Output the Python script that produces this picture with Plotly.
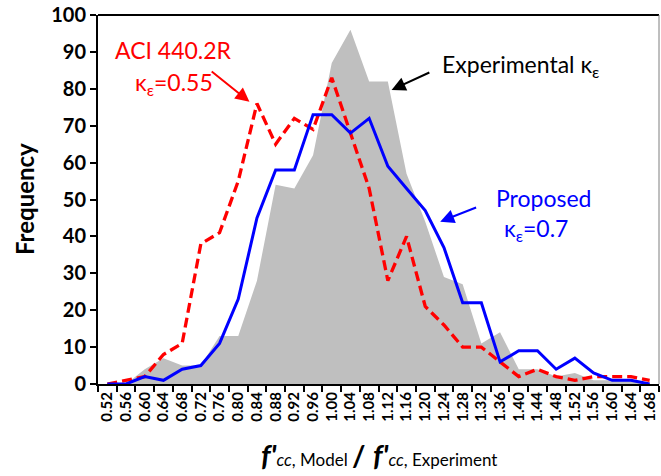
import plotly.graph_objects as go

# Histogram bins of the strength ratio f'cc,Model / f'cc,Experiment
bins = ["0.52", "0.56", "0.60", "0.64", "0.68", "0.72", "0.76", "0.80", "0.84", "0.88",
        "0.92", "0.96", "1.00", "1.04", "1.08", "1.12", "1.16", "1.20", "1.24", "1.28",
        "1.32", "1.36", "1.40", "1.44", "1.48", "1.52", "1.56", "1.60", "1.64", "1.68"]

# Frequency counts per bin
experimental = [0, 0, 4, 7, 5, 5, 13, 13, 28, 54, 53, 62, 87, 96, 82, 82, 57, 44, 29, 27,
                11, 14, 4, 4, 2, 3, 1, 1, 1, 0]
aci_440 = [0, 1, 2, 8, 11, 38, 41, 55, 76, 65, 72, 69, 83, 68, 53, 28, 40, 21, 16, 10,
           10, 6, 2, 4, 2, 1, 2, 2, 2, 1]
proposed = [0, 0, 2, 1, 4, 5, 11, 23, 45, 58, 58, 73, 73, 68, 72, 59, 53, 47, 37, 22,
            22, 6, 9, 9, 4, 7, 3, 1, 1, 0]

FONT = "Lato, 'Open Sans', sans-serif"

fig = go.Figure()
fig.add_trace(go.Scatter(x=bins, y=experimental, mode="lines", fill="tozeroy",
                         fillcolor="#BFBFBF", line=dict(width=0, color="#BFBFBF"),
                         name="Experimental"))
fig.add_trace(go.Scatter(x=bins, y=aci_440, mode="lines",
                         line=dict(color="#FF0000", width=3.3, dash="10px,5px"),
                         name="ACI 440.2R"))
fig.add_trace(go.Scatter(x=bins, y=proposed, mode="lines",
                         line=dict(color="#0000FF", width=3),
                         name="Proposed"))

def arrow(x0, y0, x1, y1, color):
    # arrow drawn from (x0, y0) to the head at (x1, y1), all in data units
    fig.add_annotation(x=x1, y=y1, ax=x0, ay=y0, xref="x", yref="y", axref="x", ayref="y",
                       text="", showarrow=True, arrowhead=2, arrowsize=1.4,
                       arrowwidth=2, arrowcolor=color)

arrow(5.5, 85, 7.6, 76.5, "#FF0000")
arrow(17.3, 84.6, 15.2, 79.7, "#000000")
arrow(19.8, 48.0, 17.8, 44.0, "#0000FF")

def label(x, y, text, color, size=23):
    fig.add_annotation(x=x, y=y, xref="x", yref="y", text=text, showarrow=False,
                       font=dict(family=FONT, size=size, color=color),
                       xanchor="center", yanchor="middle")

label(3.56, 90.5, "ACI 440.2R", "#FF0000")
label(3.56, 81.5, "κ<sub>ε</sub>=0.55", "#FF0000")
label(22.1, 86.4, "Experimental κ<sub>ε</sub>", "#000000")
label(23.3, 50.4, "Proposed", "#0000FF")
label(22.9, 42.0, "κ<sub>ε</sub>=0.7", "#0000FF")

xtitle = ("<b><i>f'</i></b><i><span style='font-size:17px'>cc</span></i>"
          "<span style='font-size:17px'>, Model </span><b>/</b>"
          " <b><i>f'</i></b><i><span style='font-size:17px'>cc</span></i>"
          "<span style='font-size:17px'>, Experiment</span>")

fig.update_layout(
    width=661, height=476,
    margin=dict(l=98, r=2, t=15, b=92),
    paper_bgcolor="white", plot_bgcolor="white",
    showlegend=False,
    font=dict(family=FONT, color="black"),
    xaxis=dict(type="category", range=[-0.5, len(bins) - 0.5], tickangle=-90,
               ticks="outside", tickson="boundaries",
               ticklen=6, tickwidth=2, tickcolor="black", showline=True, linecolor="black",
               linewidth=2, showgrid=False, zeroline=False,
               tickfont=dict(family=FONT, size=15, color="black", weight="bold")),
    yaxis=dict(range=[0, 100], dtick=10, ticks="outside", ticklen=6, tickwidth=2,
               tickcolor="black", showline=True, linecolor="black", linewidth=2,
               showgrid=False, zeroline=False,
               tickfont=dict(family=FONT, size=20, color="black", weight="bold")),
)

# axis titles placed in paper coordinates
fig.add_annotation(x=-0.131, y=0.50, xref="paper", yref="paper", text="<b>Frequency</b>",
                   textangle=-90, showarrow=False, xanchor="center", yanchor="middle",
                   font=dict(family=FONT, size=24, color="black"))
fig.add_annotation(x=0.5, y=-0.19, xref="paper", yref="paper", text=xtitle,
                   showarrow=False, xanchor="center", yanchor="middle",
                   font=dict(family=FONT, size=29, color="black"))

# plot-area frame: heavy top edge, light right edge
fig.add_shape(type="line", xref="paper", yref="paper", x0=0, x1=1, y0=1, y1=1,
              line=dict(color="black", width=2))
fig.add_shape(type="line", xref="paper", yref="paper", x0=1, x1=1, y0=0, y1=1,
              line=dict(color="#7F7F7F", width=1))

fig.write_html("out.html")
